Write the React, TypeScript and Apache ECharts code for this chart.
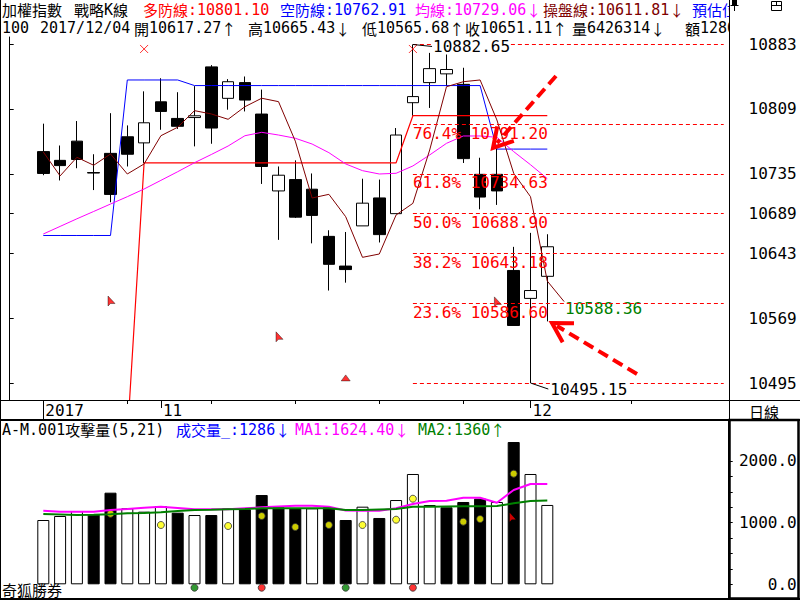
import React, { useEffect, useRef } from 'react';
import * as echarts from 'echarts';

// ---------- categories ----------
const leadSlots = ['10/19', '10/20'];
const tradeDays = ['10/23','10/24','10/25','10/26','10/27','10/30','10/31','11/01','11/02','11/03','11/06','11/07','11/08','11/09','11/10','11/13','11/14','11/15','11/16','11/17','11/20','11/21','11/22','11/23','11/24','11/27','11/28','11/29','11/30','12/01','12/04'];
const futureSlots = ['12/05','12/06','12/07','12/08','12/11','12/12','12/13','12/14','12/15','12/18'];

const weekTicks = ['10/30','11/06','11/13','11/20','11/27','12/11'];
const monthTicks = ['11/01','12/01'];
const monthLabels = ['11','12'];
const yearTicks = ['10/23'];
const yearLabels = ['2017'];

// ---------- price (OHLC) ----------
const opens  = [10760,10750,10772,10736,10758,10777,10770,10817,10798,10799,10857,10821,10839,10803,10715,10728,10717,10663,10629,10675,10707,10689,10816,10839,10849,10837,10734,10734,10624,10592,10617.27];
const highs  = [10792,10767,10795,10757,10804,10790,10829,10844,10828,10835,10859,10843,10846,10831,10743,10750,10735,10670,10668,10729,10728,10787,10882.65,10873,10873,10856,10753,10764,10651,10667,10665.43];
const lows   = [10733,10727,10741,10716,10702,10743,10747,10785,10786,10766,10769,10808,10806,10723,10659,10684,10655,10601,10610,10675,10656,10689,10801,10810,10835,10747,10694,10699,10561,10495.15,10565.68];
const closes = [10735,10744,10751,10735.5,10711,10757,10793,10806,10789,10801,10787,10840,10819,10743,10733,10685,10687,10631,10625,10701,10665,10779,10823,10855,10854,10752,10708,10715,10561,10601,10651.11];

// 空防線 (blue)
const shortDefense = [10664,10664,10664,10664,10664,10842,10842,10842,10842,10835.6,10835.6,10835.6,10835.6,10835.6,10835.6,10835.6,10835.6,10835.6,10835.6,10835.6,10835.6,10835.6,10835.6,10835.6,10835.6,10835.6,10835.6,10762.91,10762.91,10762.91,10762.91];
// 多防線 (red)
const longDefense: (number | string)[] = ['-','-','-','-','-',10433,10747.2,10747.2,10747.2,10747.2,10747.2,10747.2,10747.2,10747.2,10747.2,10747.2,10747.2,10747.2,10747.2,10747.2,10747.2,10747.2,10801.1,10801.1,10801.1,10801.1,10801.1,10801.1,10801.1,10801.1,10801.1];
// 均線 (magenta)
const avgLine = [10665.7,10674.4,10683.1,10691.5,10700.0,10708.4,10717.2,10727.1,10737.0,10747.3,10756.7,10766.4,10778.2,10782.1,10779.0,10775.3,10768.7,10758.8,10745.9,10738.2,10734.4,10735.2,10743.6,10756.2,10769.5,10777.9,10777.9,10776.4,10760,10745,10729.06];
// 操盤線 (dark red)
const tradeLine = [10759.6,10732.2,10753.5,10744.4,10757.3,10734.4,10745.9,10778.2,10787.9,10806.9,10803.1,10797.0,10811.4,10821.1,10817.2,10772,10706.9,10711.1,10685.5,10639.0,10642.8,10687.5,10700.8,10761.9,10834.3,10840.0,10842.0,10796.2,10735.2,10708.4,10611.81];
const tradeForecast = 10588.36;

// Fibonacci levels
const fibStartDay = '11/22';
const fibPercents = ['', '76.4%', '61.8%', '50.0%', '38.2%', '23.6%', ''];
const fibValues = [10882.65, 10791.20, 10734.63, 10688.90, 10643.18, 10586.60, 10495.15];

// price axis labels
const priceTicks = [10495.15, 10569, 10643.18, 10688.9, 10734.63, 10809, 10882.65];

// signal markers on price panel
const crossDays = ['10/31', '11/22'];
const crossLevel = 10877.5;
const flagDays = ['10/27', '11/10', '11/29'];
const flagValues = [10589, 10548, 10588];
const triDays = ['11/16'];
const triValues = [10501];

// ---------- volume panel ----------
const volumes = [1042,1107,1188,1134,1485,1232,1177,1269,1161,1123,1123,1232,1215,1447,1248,1232,1232,1248,1042,1258,1075,1366,1788,1285,1248,1334,1388,1334,2306,1788,1286];
const volUp   = [1,1,1,0,0,1,1,1,0,1,0,1,0,0,0,0,1,0,0,1,0,1,1,1,0,0,0,1,0,1,1];
const volMA1 = [1193,1177,1177,1177,1204,1220,1241,1258,1237,1216,1216,1216,1232,1248,1261,1274,1274,1258,1196,1193,1193,1232,1301,1350,1355,1404,1404,1323,1528,1626,1624.4];
const volMA2 = [1139,1131,1123,1128,1134,1151,1156,1167,1188,1204,1209,1216,1220,1232,1232,1232,1232,1232,1204,1204,1212,1220,1258,1258,1261,1264,1266,1269,1313,1350,1360];
const attackDays = ['10/27','11/01','11/07','11/09','11/13','11/15','11/17','11/21','11/22','11/27','11/28','11/30'];
const attackValues = [1144,961,945,1107,929,961,961,1047,1387,1015,1058,1793];
const signalDays = ['11/03','11/09','11/16','11/22'];
const signalColors = ['#008000','#ff0000','#008000','#ff0000'];
const signalLevel = -55;
const volFlagDays = ['11/30'];
const volFlagValues = [1088];
const volTicks = [0, 250, 500, 750, 1000, 1250, 1500, 1750, 2000];
const volLabels = [0, 1000, 2000];

const MONO = 'DejaVu Sans Mono';
const CJK = 'Noto Sans CJK TC';

function rich(str: string, color: string, asciiSize = 15, cjkSize = 15) {
  const parts: string[] = [];
  let cur = '';
  let curType = '';
  for (const ch of str) {
    const t = ch.charCodeAt(0) < 128 ? 'a' : 'c';
    if (t !== curType && cur) { parts.push(`{${curType}|${cur}}`); cur = ''; }
    curType = t;
    cur += ch;
  }
  if (cur) parts.push(`{${curType}|${cur}}`);
  return {
    text: parts.join(''),
    rich: {
      a: { fontFamily: MONO, fontSize: asciiSize, fill: color, lineHeight: 15 },
      c: { fontFamily: CJK, fontSize: cjkSize, fill: color, lineHeight: 15 },
    },
  };
}

function txt(str: string, color: string, x: number, y: number, z = 5) {
  const r = rich(str, color);
  return {
    type: 'text', x, y, z, silent: true,
    style: { text: r.text, rich: r.rich, fill: color, lineHeight: 15, verticalAlign: 'middle', textVerticalAlign: 'middle', align: 'left', textAlign: 'left' },
  };
}

function arrowHead(tip: number[], tail: number[], len: number) {
  const dx = tail[0] - tip[0];
  const dy = tail[1] - tip[1];
  const d = Math.hypot(dx, dy);
  const ux = dx / d, uy = dy / d;
  const c = Math.cos(Math.PI / 6), s = Math.sin(Math.PI / 6);
  const w1 = [tip[0] + len * (ux * c - uy * s), tip[1] + len * (ux * s + uy * c)];
  const w2 = [tip[0] + len * (ux * c + uy * s), tip[1] + len * (-ux * s + uy * c)];
  return [w1, tip, w2];
}

function buildOption(): any {
  const categories = [...leadSlots, ...tradeDays, ...futureSlots];
  const padL = leadSlots.map(() => '-');
  const padR = futureSlots.map(() => '-');
  const full = (arr: any[]) => [...padL, ...arr, ...padR];
  const candleData = full(tradeDays.map((_, i) => [opens[i], closes[i], lows[i], highs[i]]));
  const tradeFull = [...padL, ...tradeLine, tradeForecast, ...padR.slice(1)];
  const fibStart = categories.indexOf(fibStartDay);
  const fibEnd = categories.length - 0.5;
  const monoLabel = { fontFamily: MONO, fontSize: 16, color: '#000' };

  const hiIdx = highs.indexOf(Math.max(...highs));
  const loIdx = lows.indexOf(Math.min(...lows));
  const hiX = categories.indexOf(tradeDays[hiIdx]);
  const loX = categories.indexOf(tradeDays[loIdx]);

  const fibLines = fibValues.map((v, i) => [
    {
      coord: [fibStart, v],
      lineStyle: { color: '#ff0000', type: [4, 3], width: 1 },
      label: {
        show: fibPercents[i] !== '',
        formatter: `${fibPercents[i]} ${v.toFixed(2)}`,
        position: 'insideStartBottom',
        distance: [0, 1],
        color: '#ff0000', fontFamily: MONO, fontSize: 16,
      },
    },
    { coord: [fibEnd, v] },
  ]);
  const leaders = [
    [{ coord: [hiX, highs[hiIdx]], lineStyle: { color: '#000', type: 'solid', width: 1 }, label: { show: false } }, { coord: [hiX + 1.14, highs[hiIdx] - 2.3] }],
    [{ coord: [loX, lows[loIdx]], lineStyle: { color: '#000', type: 'solid', width: 1 }, label: { show: false } }, { coord: [loX + 1.06, lows[loIdx] - 6.9] }],
  ];

  const cursorPath = 'path://M0,0L0,10L2.5,7.5L7,7.5Z';

  const headerLine1: [string, string, number][] = [
    ['加權指數', '#000', 2], ['戰略K線', '#000', 74], ['多防線:10801.10', '#ff0000', 143],
    ['空防線:10762.91', '#0000ff', 280], ['均線:10729.06↓', '#ff00ff', 415], ['操盤線:10611.81↓', '#800000', 543],
    ['預估位', '#0000ff', 692],
  ];
  const headerLine2: [string, string, number][] = [
    ['100', '#000', 2], ['2017/12/04', '#000', 40], ['開10617.27↑', '#000', 134], ['高10665.43↓', '#000', 248],
    ['低10565.68↑', '#000', 362], ['收10651.11↑', '#000', 465], ['量6426314↓', '#000', 572], ['額1286', '#000', 685],
  ];
  const lowerHeader: [string, string, number][] = [
    ['A-M.001攻擊量(5,21)', '#000', 2], ['成交量_:1286↓', '#0000ff', 176], ['MA1:1624.40↓', '#ff00ff', 295], ['MA2:1360↑', '#008000', 418],
  ];

  const a1tip = [493, 148], a1tail = [556, 76];
  const a2tip = [552, 323], a2tail = [637, 374];

  const graphic: any[] = [
    ...headerLine1.map(([s, c, x]) => txt(s, c, x, 9.5)),
    ...headerLine2.map(([s, c, x]) => txt(s, c, x, 28)),
    ...lowerHeader.map(([s, c, x]) => txt(s, c, x, 429.5)),
    txt('奇狐勝券', '#000', 2, 589.5),
    { type: 'rect', z: 20, silent: true, shape: { x: 730, y: 0, width: 70, height: 37 }, style: { fill: '#fff' } },
    txt('日線', '#000', 749, 411, 21),
    // icons top-right
    { type: 'rect', z: 21, silent: true, shape: { x: 771.5, y: 1.5, width: 10, height: 9 }, style: { fill: 'none', stroke: '#000', lineWidth: 1 } },
    { type: 'line', z: 21, silent: true, shape: { x1: 771.5, y1: 5.5, x2: 781.5, y2: 5.5 }, style: { stroke: '#000', lineWidth: 1 } },
    { type: 'line', z: 21, silent: true, shape: { x1: 776.5, y1: 1.5, x2: 776.5, y2: 5.5 }, style: { stroke: '#000', lineWidth: 1 } },
    { type: 'rect', z: 21, silent: true, shape: { x: 732, y: 0, width: 5, height: 5 }, style: { fill: '#000' } },
    { type: 'line', z: 21, silent: true, shape: { x1: 730.5, y1: 5.5, x2: 738.5, y2: 5.5 }, style: { stroke: '#000', lineWidth: 1 } },
    { type: 'line', z: 21, silent: true, shape: { x1: 734.5, y1: 5.5, x2: 734.5, y2: 11 }, style: { stroke: '#000', lineWidth: 1 } },
    // frame lines
    { type: 'line', z: 22, silent: true, shape: { x1: 729.5, y1: 0, x2: 729.5, y2: 420 }, style: { stroke: '#000', lineWidth: 1 } },
    { type: 'line', z: 22, silent: true, shape: { x1: 0, y1: 400.5, x2: 800, y2: 400.5 }, style: { stroke: '#000', lineWidth: 1 } },
    { type: 'line', z: 22, silent: true, shape: { x1: 0, y1: 420, x2: 800, y2: 420 }, style: { stroke: '#000', lineWidth: 2 } },
    { type: 'rect', z: 22, silent: true, shape: { x: 729.5, y: 420, width: 69, height: 178.5 }, style: { fill: 'none', stroke: '#000', lineWidth: 2.5 } },
    { type: 'line', z: 22, silent: true, shape: { x1: 0.5, y1: 0, x2: 0.5, y2: 600 }, style: { stroke: '#000', lineWidth: 1 } },
    { type: 'line', z: 22, silent: true, shape: { x1: 0, y1: 599, x2: 800, y2: 599 }, style: { stroke: '#000', lineWidth: 2 } },
    // annotation arrows
    { type: 'line', z: 23, silent: true, shape: { x1: a1tail[0], y1: a1tail[1], x2: a1tip[0] + 4, y2: a1tip[1] - 5 }, style: { stroke: '#ff0000', lineWidth: 4, lineDash: [11, 6] } },
    { type: 'polyline', z: 23, silent: true, shape: { points: arrowHead(a1tip, a1tail, 22) }, style: { stroke: '#ff0000', lineWidth: 4, fill: 'none' } },
    { type: 'line', z: 23, silent: true, shape: { x1: a2tail[0], y1: a2tail[1], x2: a2tip[0] + 5, y2: a2tip[1] + 3 }, style: { stroke: '#ff0000', lineWidth: 4, lineDash: [11, 6] } },
    { type: 'polyline', z: 23, silent: true, shape: { points: arrowHead(a2tip, a2tail, 22) }, style: { stroke: '#ff0000', lineWidth: 4, fill: 'none' } },
  ];

  return {
    animation: false,
    backgroundColor: '#fff',
    grid: [
      { left: 1.3, top: 37, width: 722.4, height: 363 },
      { left: 1.3, top: 420, width: 722.4, height: 178 },
    ],
    xAxis: [
      {
        type: 'category', gridIndex: 0, data: categories, position: 'bottom',
        axisLine: { show: true, onZero: false, lineStyle: { color: '#000', width: 1 } },
        axisTick: { show: true, alignWithLabel: true, length: 4, interval: (_i: number, v: string) => weekTicks.includes(v), lineStyle: { color: '#000' } },
        axisLabel: { show: false }, splitLine: { show: false },
      },
      {
        type: 'category', gridIndex: 0, data: categories, position: 'bottom',
        axisLine: { show: false, onZero: false },
        axisTick: { show: true, alignWithLabel: true, length: 8, interval: (_i: number, v: string) => monthTicks.includes(v), lineStyle: { color: '#000' } },
        axisLabel: { show: true, interval: (_i: number, v: string) => monthTicks.includes(v), formatter: (v: string) => monthLabels[monthTicks.indexOf(v)] ?? '', align: 'left', margin: 2, padding: [0, 0, 0, 2], ...monoLabel },
        splitLine: { show: false },
      },
      {
        type: 'category', gridIndex: 0, data: categories, position: 'bottom',
        axisLine: { show: false, onZero: false },
        axisTick: { show: true, alignWithLabel: true, length: 19, interval: (_i: number, v: string) => yearTicks.includes(v), lineStyle: { color: '#000' } },
        axisLabel: { show: true, interval: (_i: number, v: string) => yearTicks.includes(v), formatter: (v: string) => yearLabels[yearTicks.indexOf(v)] ?? '', align: 'left', margin: 2, padding: [0, 0, 0, 2], ...monoLabel },
        splitLine: { show: false },
      },
      { type: 'value', gridIndex: 0, min: -0.5, max: categories.length - 0.5, show: false },
      { type: 'category', gridIndex: 1, data: categories, show: false },
    ],
    yAxis: [
      {
        type: 'value', gridIndex: 0, position: 'right', offset: 5, min: 10475.7, max: 10891.2,
        axisLine: { show: true, lineStyle: { color: '#000', width: 1 } },
        axisTick: { show: true, length: 4, customValues: priceTicks, lineStyle: { color: '#000' } },
        axisLabel: { customValues: priceTicks, formatter: (v: number) => String(Math.round(v)), align: 'right', margin: 68, ...monoLabel },
        splitLine: { show: false },
      },
      {
        type: 'value', gridIndex: 1, position: 'right', offset: 5, min: -222, max: 2663,
        axisLine: { show: true, lineStyle: { color: '#000', width: 2 } },
        axisTick: { show: true, length: 4, customValues: volTicks, lineStyle: { color: '#000' } },
        axisLabel: { customValues: volLabels, formatter: (v: number) => v.toFixed(1), align: 'right', margin: 68, ...monoLabel },
        splitLine: { show: false },
      },
    ],
    series: [
      {
        type: 'candlestick', xAxisIndex: 0, yAxisIndex: 0, data: candleData, barWidth: 12, silent: true,
        itemStyle: { color: '#fff', color0: '#000', borderColor: '#000', borderColor0: '#000', borderWidth: 1 },
      },
      { type: 'line', xAxisIndex: 0, yAxisIndex: 0, data: full(shortDefense), symbol: 'none', silent: true, lineStyle: { color: '#0000ff', width: 1 } },
      { type: 'line', xAxisIndex: 0, yAxisIndex: 0, data: full(longDefense), symbol: 'none', silent: true, lineStyle: { color: '#ff0000', width: 1.2 } },
      { type: 'line', xAxisIndex: 0, yAxisIndex: 0, data: full(avgLine), symbol: 'none', silent: true, lineStyle: { color: '#ff00ff', width: 1 } },
      {
        type: 'line', xAxisIndex: 0, yAxisIndex: 0, data: tradeFull, symbol: 'none', silent: true, lineStyle: { color: '#800000', width: 1 },
        endLabel: { show: true, formatter: tradeForecast.toFixed(2), color: '#008000', fontFamily: MONO, fontSize: 16, distance: 1, offset: [0, 7] },
      },
      {
        type: 'scatter', xAxisIndex: 0, yAxisIndex: 0, silent: true,
        data: crossDays.map((d) => [d, crossLevel]),
        symbol: 'path://M0,0L10,10M10,0L0,10', symbolSize: 8,
        itemStyle: { color: 'none', borderColor: '#ff0000', borderWidth: 1 },
      },
      {
        type: 'scatter', xAxisIndex: 0, yAxisIndex: 0, silent: true,
        data: flagDays.map((d, i) => [d, flagValues[i]]),
        symbol: cursorPath, symbolSize: [7, 10], symbolOffset: [1, 0],
        itemStyle: { color: '#ff0000', borderColor: '#000', borderWidth: 0.5 },
      },
      {
        type: 'scatter', xAxisIndex: 0, yAxisIndex: 0, silent: true,
        data: triDays.map((d, i) => [d, triValues[i]]),
        symbol: 'triangle', symbolSize: [9, 6],
        itemStyle: { color: '#ff0000', borderColor: '#000', borderWidth: 0.5 },
      },
      {
        type: 'line', xAxisIndex: 3, yAxisIndex: 0, data: [], silent: true,
        markLine: { silent: true, symbol: ['none', 'none'], data: [...fibLines, ...leaders] },
        markPoint: {
          silent: true, symbol: 'circle', symbolSize: 0,
          data: [
            { coord: [hiX + 1.14, highs[hiIdx] - 2.3], label: { show: true, formatter: highs[hiIdx].toFixed(2), position: 'right', distance: 1, color: '#000', fontFamily: MONO, fontSize: 16, backgroundColor: '#fff' } },
            { coord: [loX + 1.06, lows[loIdx] - 6.9], label: { show: true, formatter: lows[loIdx].toFixed(2), position: 'right', distance: 2, color: '#000', fontFamily: MONO, fontSize: 16, backgroundColor: '#fff' } },
          ],
        },
      },
      // lower panel
      {
        type: 'bar', xAxisIndex: 4, yAxisIndex: 1, silent: true, barWidth: 12,
        data: full(volumes.map((v, i) => ({ value: v, itemStyle: { color: volUp[i] ? '#fff' : '#000', borderColor: '#000', borderWidth: 1 } }))),
      },
      { type: 'line', xAxisIndex: 4, yAxisIndex: 1, data: full(volMA1), symbol: 'none', silent: true, lineStyle: { color: '#ff00ff', width: 2 } },
      { type: 'line', xAxisIndex: 4, yAxisIndex: 1, data: full(volMA2), symbol: 'none', silent: true, lineStyle: { color: '#008000', width: 2 } },
      {
        type: 'scatter', xAxisIndex: 4, yAxisIndex: 1, silent: true, symbolSize: 7,
        data: attackDays.map((d, i) => [d, attackValues[i]]),
        itemStyle: { color: '#ffff00', borderColor: '#333', borderWidth: 1 },
      },
      {
        type: 'scatter', xAxisIndex: 4, yAxisIndex: 1, silent: true, symbolSize: 7,
        data: signalDays.map((d, i) => ({ value: [d, signalLevel], itemStyle: { color: signalColors[i], borderColor: '#333', borderWidth: 1 } })),
      },
      {
        type: 'scatter', xAxisIndex: 4, yAxisIndex: 1, silent: true,
        data: volFlagDays.map((d, i) => [d, volFlagValues[i]]),
        symbol: cursorPath, symbolSize: [6, 9], symbolOffset: [-1, 0],
        itemStyle: { color: '#ff0000' },
      },
    ],
    graphic,
  };
}

export default function App() {
  const ref = useRef<HTMLDivElement>(null);
  useEffect(() => {
    const chart = echarts.init(ref.current!, null, { renderer: 'svg' });
    chart.setOption(buildOption());
    return () => chart.dispose();
  }, []);
  return <div ref={ref} style={{ position: 'fixed', left: 0, top: 0, width: 800, height: 600, background: '#fff' }} />;
}
